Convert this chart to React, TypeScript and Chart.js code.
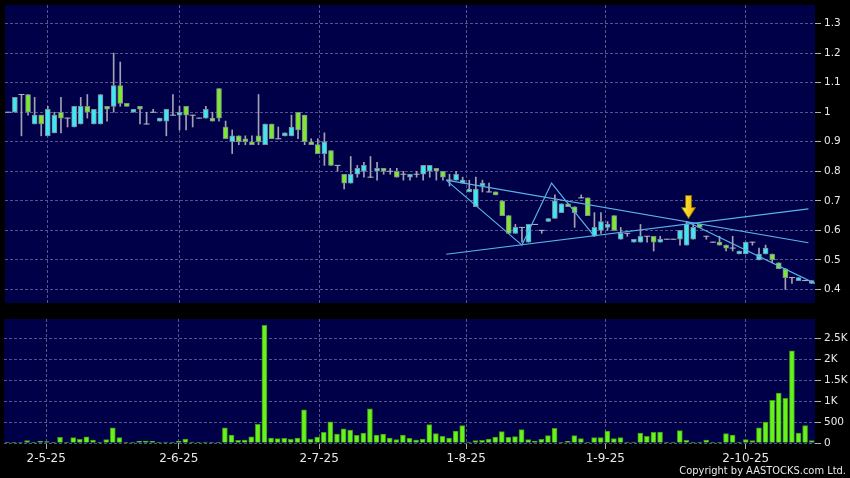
import React, { useEffect, useRef } from "react";
import { Chart, registerables } from "chart.js";

Chart.register(...registerables);

// ---------- data ----------
const openP = [
  1.0, 1.0, 1.06, 1.06, 0.96, 0.99, 0.92, 0.93, 1.0, 0.98,
  0.95, 0.96, 1.02, 0.96, 0.96, 1.02, 1.02, 1.09, 1.03, 1.0,
  1.02, 0.96, 1.0, 0.97, 0.97, 0.99, 0.99, 1.02, 0.99, 0.98,
  0.98, 0.98, 1.08, 0.95, 0.9, 0.92, 0.91, 0.9, 0.92, 0.89,
  0.96, 0.91, 0.92, 0.92, 1.0, 0.99, 0.9, 0.89, 0.86, 0.87,
  0.82, 0.79, 0.76, 0.79, 0.8, 0.78, 0.8, 0.81, 0.8, 0.8,
  0.79, 0.78, 0.79, 0.79, 0.8, 0.81, 0.8, 0.77, 0.77, 0.76,
  0.73, 0.68, 0.75, 0.73, 0.73, 0.7, 0.65, 0.59, 0.61, 0.56,
  0.62, 0.6, 0.63, 0.64, 0.66, 0.69, 0.68, 0.71, 0.71, 0.58,
  0.6, 0.61, 0.65, 0.57, 0.59, 0.56, 0.56, 0.58, 0.58, 0.56,
  0.57, 0.57, 0.57, 0.55, 0.57, 0.62, 0.58, 0.56, 0.56, 0.55,
  0.54, 0.52, 0.52, 0.56, 0.5, 0.52, 0.52, 0.49, 0.47, 0.44,
  0.43, 0.43, 0.42,
];
const highP = [
  1.0, 1.05, 1.06, 1.06, 1.05, 0.99, 1.02, 1.0, 1.05, 0.98,
  1.02, 1.05, 1.06, 1.01, 1.06, 1.02, 1.2, 1.17, 1.03, 1.01,
  1.02, 1.0, 1.01, 0.98, 1.01, 1.06, 1.02, 1.02, 0.99, 0.98,
  1.02, 1.0, 1.08, 0.97, 0.94, 0.92, 0.92, 0.92, 1.06, 0.96,
  0.96, 0.95, 0.93, 0.99, 1.0, 0.99, 0.91, 0.91, 0.93, 0.87,
  0.82, 0.79, 0.85, 0.82, 0.83, 0.85, 0.83, 0.81, 0.81, 0.81,
  0.8, 0.79, 0.8, 0.82, 0.82, 0.81, 0.8, 0.79, 0.8, 0.78,
  0.77, 0.78, 0.77, 0.76, 0.73, 0.7, 0.65, 0.62, 0.61, 0.62,
  0.62, 0.6, 0.64, 0.72, 0.69, 0.69, 0.68, 0.72, 0.71, 0.66,
  0.66, 0.63, 0.65, 0.61, 0.59, 0.57, 0.62, 0.58, 0.58, 0.58,
  0.57, 0.57, 0.6, 0.63, 0.62, 0.62, 0.58, 0.56, 0.58, 0.55,
  0.58, 0.53, 0.56, 0.56, 0.54, 0.55, 0.52, 0.49, 0.47, 0.44,
  0.44, 0.43, 0.43,
];
const lowP = [
  1.0, 1.0, 0.92, 0.99, 0.96, 0.92, 0.92, 0.93, 0.93, 0.95,
  0.95, 0.96, 0.98, 0.96, 0.96, 0.97, 1.0, 1.02, 1.02, 1.0,
  0.96, 0.96, 1.0, 0.97, 0.92, 0.99, 0.94, 0.94, 0.95, 0.98,
  0.98, 0.97, 0.97, 0.91, 0.86, 0.89, 0.89, 0.89, 0.89, 0.89,
  0.91, 0.91, 0.92, 0.92, 0.91, 0.89, 0.89, 0.86, 0.82, 0.82,
  0.8, 0.74, 0.76, 0.78, 0.78, 0.78, 0.77, 0.79, 0.79, 0.78,
  0.77, 0.77, 0.78, 0.77, 0.78, 0.77, 0.77, 0.75, 0.77, 0.76,
  0.73, 0.68, 0.73, 0.73, 0.72, 0.65, 0.59, 0.59, 0.56, 0.56,
  0.62, 0.59, 0.63, 0.64, 0.66, 0.68, 0.61, 0.71, 0.65, 0.58,
  0.59, 0.6, 0.6, 0.57, 0.58, 0.56, 0.56, 0.56, 0.53, 0.56,
  0.57, 0.57, 0.55, 0.55, 0.57, 0.61, 0.57, 0.56, 0.55, 0.53,
  0.53, 0.52, 0.52, 0.55, 0.5, 0.52, 0.49, 0.47, 0.4, 0.42,
  0.43, 0.43, 0.42,
];
const closeP = [
  1.0, 1.05, 1.06, 1.0, 0.99, 0.96, 1.01, 0.99, 0.98, 0.98,
  1.02, 1.02, 1.0, 1.01, 1.06, 1.01, 1.09, 1.03, 1.02, 1.01,
  1.01, 0.96, 1.0, 0.98, 1.01, 0.99, 1.0, 0.99, 0.99, 0.98,
  1.01, 0.97, 0.98, 0.91, 0.92, 0.9, 0.9, 0.89, 0.9, 0.96,
  0.91, 0.91, 0.93, 0.95, 0.94, 0.9, 0.89, 0.86, 0.9, 0.82,
  0.82, 0.76, 0.79, 0.81, 0.82, 0.78, 0.81, 0.8, 0.8, 0.78,
  0.79, 0.79, 0.79, 0.82, 0.82, 0.8, 0.78, 0.77, 0.79, 0.77,
  0.74, 0.74, 0.76, 0.73, 0.72, 0.65, 0.59, 0.61, 0.61, 0.62,
  0.62, 0.6, 0.64, 0.7, 0.69, 0.68, 0.66, 0.71, 0.65, 0.61,
  0.63, 0.62, 0.6, 0.59, 0.59, 0.57, 0.58, 0.58, 0.56, 0.57,
  0.57, 0.57, 0.6, 0.62, 0.61, 0.61, 0.58, 0.56, 0.55, 0.54,
  0.54, 0.53, 0.56, 0.56, 0.52, 0.54, 0.5, 0.47, 0.44, 0.44,
  0.44, 0.43, 0.43,
];
const volume = [
  5, 5, 10, 55, 15, 48, 32, 5, 135, 5,
  127, 87, 150, 71, 5, 79, 365, 127, 5, 8,
  40, 48, 40, 5, 24, 5, 40, 95, 24, 5,
  24, 16, 24, 365, 190, 63, 71, 150, 445, 2810,
  119, 103, 111, 87, 119, 794, 87, 143, 254, 508,
  214, 341, 310, 183, 238, 818, 190, 214, 119, 79,
  190, 111, 71, 95, 437, 222, 159, 119, 286, 413,
  24, 56, 64, 95, 143, 270, 135, 151, 318, 79,
  48, 87, 175, 349, 24, 40, 175, 103, 24, 127,
  127, 286, 103, 127, 24, 24, 238, 159, 254, 262,
  24, 8, 294, 64, 8, 24, 71, 5, 16, 222,
  190, 24, 79, 56, 365, 500, 1016, 1190, 1064, 2200,
  238, 413, 56,
];
const xTickIndex = [5.9, 26, 47.3, 69.6, 90.7, 112];
const xTickLabels = ["2-5-25", "2-6-25", "2-7-25", "1-8-25", "1-9-25", "2-10-25"];
const priceTicks = [0.4, 0.5, 0.6, 0.7, 0.8, 0.9, 1, 1.1, 1.2, 1.3];
const volumeTicks = [0, 500, 1000, 1500, 2000, 2500];
const volumeTickLabels = ["0", "500", "1K", "1.5K", "2K", "2.5K"];

// drawn trend lines (index, price)
const zigzagX = [66.5, 78, 82.5, 89];
const zigzagY = [0.77, 0.55, 0.76, 0.58];
const upperLineX = [66.5, 121.5];
const upperLineY = [0.77, 0.558];
const lowerLineX = [66.5, 121.5];
const lowerLineY = [0.519, 0.673];
const downLineX = [103, 122.5];
const downLineY = [0.63, 0.42];
const arrowX = 103.3;
const arrowY = 0.64;

// ---------- styles ----------
const NAVY = "#000048";
const GRID = "#55558a";
const CYAN = "#3ee8f2";
const GREEN = "#80e82c";
const BODY_EDGE = "#7d8c9c";
const WICK = "#a2a2b2";
const DOJI = "#b4b4c0";
const TREND = "#58b4e8";
const VOL = "#68f21c";
const VOL_EDGE = "#3f9a14";
const LABEL = "#e8e8e8";
const FONT = "'DejaVu Sans', sans-serif";

const N = openP.length;
const idx = openP.map((_, i) => i);

const navyBg = {
  id: "navyBg",
  beforeDraw(chart: any) {
    const { ctx, chartArea } = chart;
    ctx.save();
    ctx.fillStyle = NAVY;
    ctx.fillRect(chartArea.left, chartArea.top, chartArea.right - chartArea.left, chartArea.bottom - chartArea.top);
    ctx.restore();
  },
};

const arrowPlugin = {
  id: "arrowMark",
  afterDatasetsDraw(chart: any) {
    const { ctx } = chart;
    const x = chart.scales.x.getPixelForValue(arrowX);
    const tip = chart.scales.y.getPixelForValue(arrowY);
    const top = tip - 23;
    const neck = tip - 11;
    ctx.save();
    const g = ctx.createLinearGradient(x - 7, 0, x + 7, 0);
    g.addColorStop(0, "#ffe94a");
    g.addColorStop(1, "#f2b400");
    ctx.fillStyle = g;
    ctx.strokeStyle = "#8a6a00";
    ctx.lineWidth = 1;
    ctx.beginPath();
    ctx.moveTo(x - 3, top);
    ctx.lineTo(x + 3, top);
    ctx.lineTo(x + 3, neck);
    ctx.lineTo(x + 7, neck);
    ctx.lineTo(x, tip);
    ctx.lineTo(x - 7, neck);
    ctx.lineTo(x - 3, neck);
    ctx.closePath();
    ctx.fill();
    ctx.stroke();
    ctx.restore();
  },
};

const pts = (xs: number[], ys: number[]) => xs.map((x, k) => ({ x, y: ys[k] }));

const trend = (xs: number[], ys: number[]) => ({
  type: "line" as const,
  data: pts(xs, ys),
  borderColor: TREND,
  borderWidth: 1.2,
  pointRadius: 0,
  fill: false,
  tension: 0,
  order: 0,
});

function xScale(showLabels: boolean, height: number) {
  return {
    type: "linear" as const,
    min: -0.5,
    max: N - 0.5,
    offset: false,
    afterBuildTicks: (s: any) => {
      s.ticks = xTickIndex.map((v) => ({ value: v }));
    },
    afterFit: (s: any) => {
      s.height = height;
      s.paddingLeft = 0;
      s.paddingRight = 0;
    },
    grid: {
      offset: false,
      color: GRID,
      drawTicks: showLabels,
      tickLength: 6,
      tickColor: "#b0b0b0",
    },
    border: { display: false, dash: [3, 2] },
    ticks: {
      display: showLabels,
      autoSkip: false,
      maxRotation: 0,
      padding: 3,
      color: LABEL,
      font: { family: FONT, size: 12 },
      callback: (_v: any, i: number) => xTickLabels[i],
    },
  };
}

function yScale(min: number, max: number, tickVals: number[], fmt: (v: number, i: number) => string) {
  return {
    type: "linear" as const,
    position: "right" as const,
    min,
    max,
    afterBuildTicks: (s: any) => {
      s.ticks = tickVals.map((v) => ({ value: v }));
    },
    afterFit: (s: any) => {
      s.width = 35;
      s.paddingTop = 0;
      s.paddingBottom = 0;
    },
    grid: {
      color: GRID,
      drawTicks: true,
      tickLength: 6,
      tickColor: "#b0b0b0",
    },
    border: { display: false, dash: [3, 2] },
    ticks: {
      padding: 3,
      color: LABEL,
      font: { family: FONT, size: 10.5 },
      callback: (v: any, i: number) => fmt(v, i),
    },
  };
}

export default function App() {
  const priceRef = useRef<HTMLCanvasElement>(null);
  const volRef = useRef<HTMLCanvasElement>(null);

  useEffect(() => {
    const isDoji = (i: number) => openP[i] === closeP[i];
    const bodyIdx = idx.filter((i) => !isDoji(i));
    const dojiIdx = idx.filter((i) => isDoji(i));

    const price = new Chart(priceRef.current as HTMLCanvasElement, {
      type: "bar",
      data: {
        datasets: [
          {
            type: "bar",
            data: idx.map((i) => ({ x: i, y: [lowP[i], highP[i]] })) as any,
            backgroundColor: WICK,
            barThickness: 1,
            grouped: false,
            borderWidth: 0,
            order: 4,
          } as any,
          {
            type: "bar",
            data: bodyIdx.map((i) => ({ x: i, y: [Math.min(openP[i], closeP[i]), Math.max(openP[i], closeP[i])] })) as any,
            backgroundColor: bodyIdx.map((i) => (closeP[i] > openP[i] ? CYAN : GREEN)),
            borderColor: BODY_EDGE,
            borderWidth: 1,
            borderSkipped: false,
            barThickness: 5,
            grouped: false,
            order: 3,
          } as any,
          {
            type: "scatter",
            data: dojiIdx.map((i) => ({ x: i, y: openP[i] })),
            pointStyle: "line",
            radius: 3,
            borderColor: DOJI,
            borderWidth: 1,
            order: 2,
          } as any,
          trend(zigzagX, zigzagY) as any,
          trend(upperLineX, upperLineY) as any,
          trend(lowerLineX, lowerLineY) as any,
          trend(downLineX, downLineY) as any,
        ],
      },
      options: {
        animation: false,
        responsive: false,
        devicePixelRatio: 1,
        layout: { padding: { left: 4, right: 0, top: 5, bottom: 1 } },
        plugins: { legend: { display: false }, tooltip: { enabled: false } },
        scales: {
          x: xScale(false, 0) as any,
          y: yScale(0.354, 1.363, priceTicks, (v) => String(v)) as any,
        },
      },
      plugins: [navyBg, arrowPlugin],
    });

    const vol = new Chart(volRef.current as HTMLCanvasElement, {
      type: "bar",
      data: {
        datasets: [
          {
            data: volume.map((v, i) => ({ x: i, y: v })) as any,
            backgroundColor: VOL,
            borderColor: VOL_EDGE,
            borderWidth: 1,
            borderSkipped: "start",
            barThickness: 5,
            grouped: false,
          } as any,
        ],
      },
      options: {
        animation: false,
        responsive: false,
        devicePixelRatio: 1,
        layout: { padding: { left: 4, right: 0, top: 11, bottom: 0 } },
        plugins: { legend: { display: false }, tooltip: { enabled: false } },
        scales: {
          x: xScale(true, 35) as any,
          y: yScale(0, 2960, volumeTicks, (_v, i) => volumeTickLabels[i]) as any,
        },
      },
      plugins: [navyBg],
    });

    return () => {
      price.destroy();
      vol.destroy();
    };
  }, []);

  return (
    <div style={{ position: "fixed", left: 0, top: 0, width: 850, height: 478, background: "#000", overflow: "hidden" }}>
      <canvas ref={priceRef} width={850} height={308} style={{ position: "absolute", left: 0, top: 0 }} />
      <canvas ref={volRef} width={850} height={170} style={{ position: "absolute", left: 0, top: 308 }} />
      <div
        style={{
          position: "absolute",
          right: 4,
          top: 463,
          fontFamily: "'DejaVu Sans Condensed', 'DejaVu Sans', sans-serif",
          fontSize: 11,
          lineHeight: "16px",
          color: LABEL,
          whiteSpace: "nowrap",
        }}
      >
        Copyright by AASTOCKS.com Ltd.
      </div>
    </div>
  );
}
